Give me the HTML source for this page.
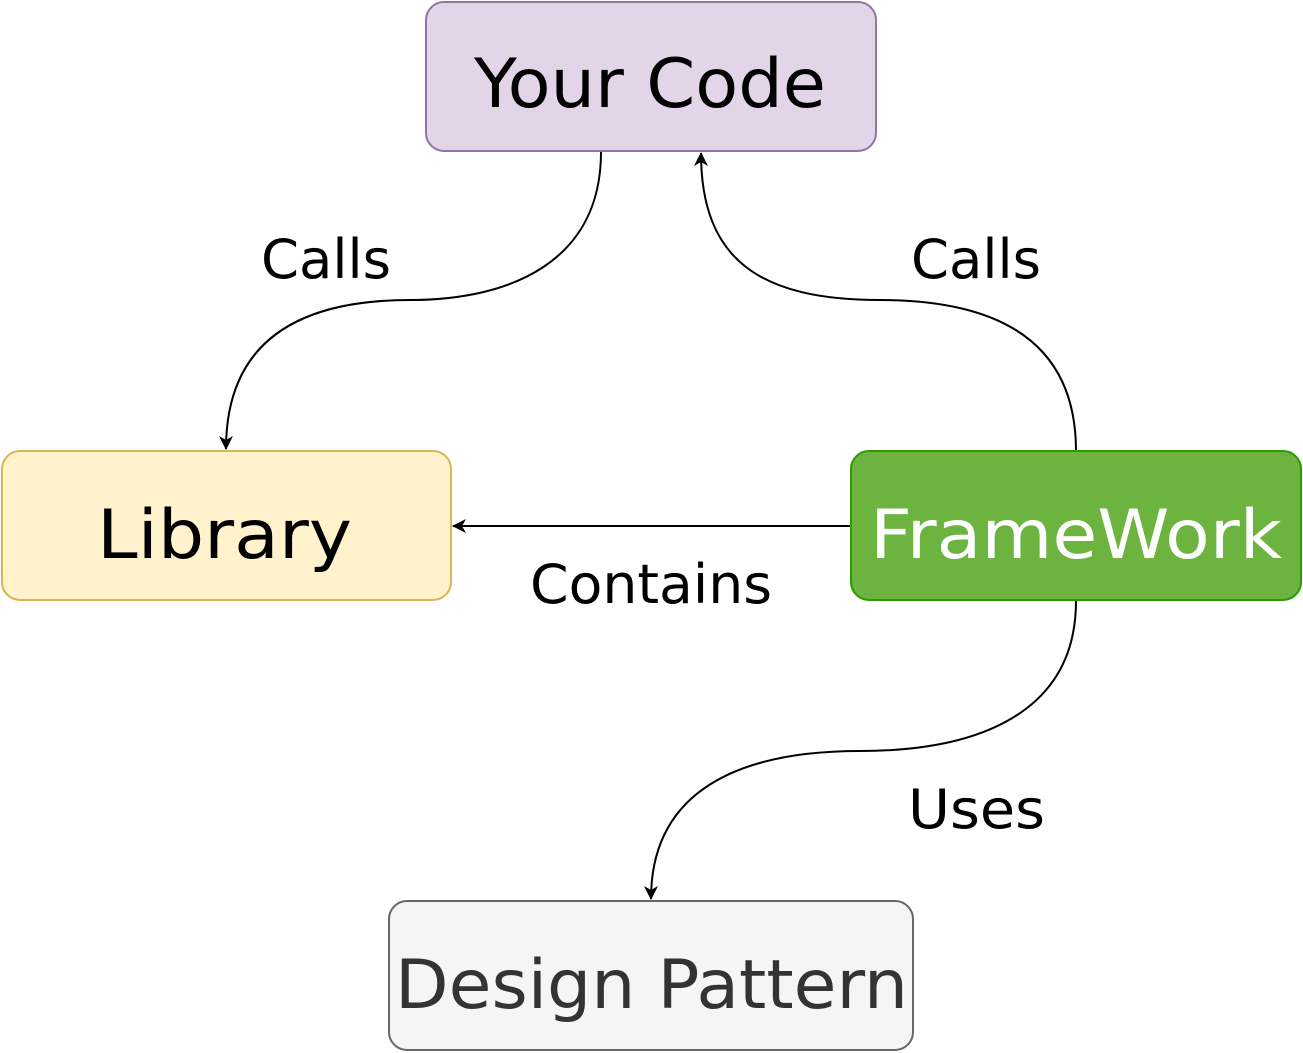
<!DOCTYPE html>
<html><head><meta charset="utf-8"><style>
html,body{margin:0;padding:0;background:#fff;}
svg{display:block;}
text{font-family:"DejaVu Sans","Liberation Sans",sans-serif;}
</style></head><body>
<svg width="1303" height="1053" viewBox="0 0 1303 1053" xmlns="http://www.w3.org/2000/svg">
<defs>
<marker id="a" markerWidth="16" markerHeight="16" refX="13" refY="7" orient="auto" markerUnits="userSpaceOnUse">
<path d="M0,0 L14,7 L0,14 L4,7 Z" fill="#000"/>
</marker>
</defs>
<g fill="none" stroke="#000" stroke-width="2">
<path d="M601 152 C601 262 510 300 410 300 C300 300 226 340 226 449" marker-end="url(#a)"/>
<path d="M1076 451 C1076 350 1010 300 880 300 C760 300 701 260 701 153" marker-end="url(#a)"/>
<path d="M851 526 L453 526" marker-end="url(#a)"/>
<path d="M1076 601 C1076 712 980 751 860 751 C740 751 651 790 651 899" marker-end="url(#a)"/>
</g>
<rect x="426" y="2" width="450" height="149" rx="18" fill="#e1d5e7" stroke="#9673a6" stroke-width="2"/>
<rect x="2" y="451" width="449" height="149" rx="18" fill="#fff2cc" stroke="#d6b656" stroke-width="2"/>
<rect x="851" y="451" width="450" height="149" rx="18" fill="#6db33f" stroke="#2d9a00" stroke-width="2"/>
<rect x="389" y="901" width="524" height="149" rx="18" fill="#f5f5f5" stroke="#666" stroke-width="2"/>
<g font-size="68" fill="#000">
<text x="474" y="107" textLength="352" lengthAdjust="spacingAndGlyphs">Your Code</text>
<text x="97" y="558" textLength="255" lengthAdjust="spacingAndGlyphs">Library</text>
<text x="870" y="558" textLength="412" lengthAdjust="spacingAndGlyphs" fill="#fff">FrameWork</text>
<text x="395" y="1008" textLength="513" lengthAdjust="spacingAndGlyphs" fill="#333">Design Pattern</text>
</g>
<g font-size="54" fill="#000">
<text x="261" y="278" textLength="130" lengthAdjust="spacingAndGlyphs">Calls</text>
<text x="911" y="278" textLength="130" lengthAdjust="spacingAndGlyphs">Calls</text>
<text x="530" y="603" textLength="242" lengthAdjust="spacingAndGlyphs">Contains</text>
<text x="908" y="828" textLength="137" lengthAdjust="spacingAndGlyphs">Uses</text>
</g>
</svg>
</body></html>
